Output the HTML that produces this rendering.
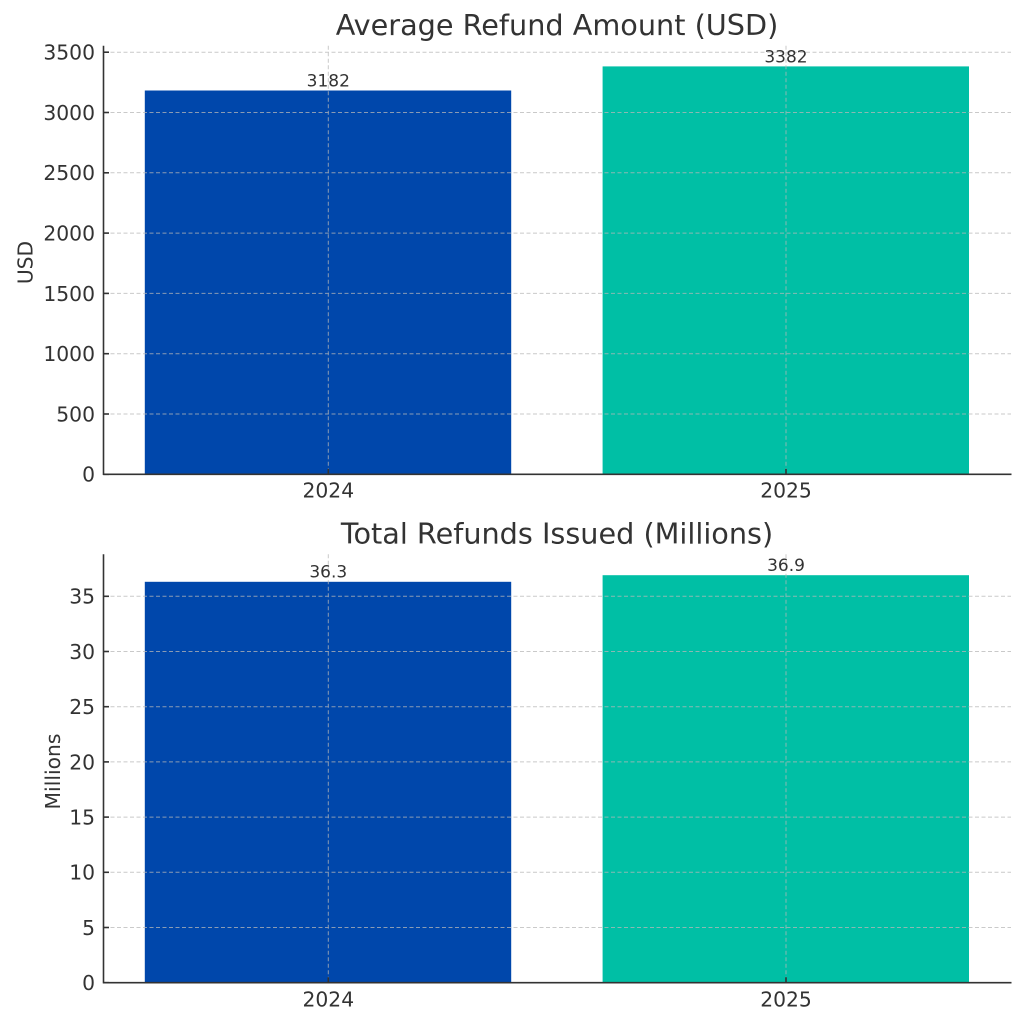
<!DOCTYPE html>
<html>
<head>
<meta charset="utf-8">
<style>
html,body{margin:0;padding:0;background:#fff;}
svg{display:block;}
text{font-family:"DejaVu Sans","Liberation Sans",sans-serif;fill:#333;}
</style>
</head>
<body>
<svg width="1024" height="1024" viewBox="0 0 1024 1024" xmlns="http://www.w3.org/2000/svg">
<rect width="1024" height="1024" fill="#fff"/>

<!-- ===== TOP AXES ===== -->
<text x="557" y="35" font-size="28.7" text-anchor="middle">Average Refund Amount (USD)</text>

<!-- bars -->
<rect x="144.8" y="90.5" width="366.4" height="383.8" fill="#0047ab"/>
<rect x="602.6" y="66.4" width="366.4" height="407.9" fill="#00bfa5"/>

<!-- grid -->
<g stroke="#b8b8b8" stroke-width="1" stroke-dasharray="4,2.5" opacity="0.75" fill="none">
  <line x1="104" y1="414.0" x2="1011" y2="414.0"/>
  <line x1="104" y1="353.7" x2="1011" y2="353.7"/>
  <line x1="104" y1="293.4" x2="1011" y2="293.4"/>
  <line x1="104" y1="233.1" x2="1011" y2="233.1"/>
  <line x1="104" y1="172.8" x2="1011" y2="172.8"/>
  <line x1="104" y1="112.5" x2="1011" y2="112.5"/>
  <line x1="104" y1="52.2" x2="1011" y2="52.2"/>
  <line x1="328.3" y1="45.7" x2="328.3" y2="474.3"/>
  <line x1="786" y1="45.7" x2="786" y2="474.3"/>
</g>

<!-- spines -->
<g stroke="#333" stroke-width="1.6" fill="none">
  <line x1="103.5" y1="45.7" x2="103.5" y2="475"/>
  <line x1="103" y1="474.3" x2="1011.5" y2="474.3"/>
  <line x1="103.5" y1="474.3" x2="109" y2="474.3"/>
  <line x1="103.5" y1="414.0" x2="109" y2="414.0"/>
  <line x1="103.5" y1="353.7" x2="109" y2="353.7"/>
  <line x1="103.5" y1="293.4" x2="109" y2="293.4"/>
  <line x1="103.5" y1="233.1" x2="109" y2="233.1"/>
  <line x1="103.5" y1="172.8" x2="109" y2="172.8"/>
  <line x1="103.5" y1="112.5" x2="109" y2="112.5"/>
  <line x1="103.5" y1="52.2" x2="109" y2="52.2"/>
  <line x1="328.3" y1="474.3" x2="328.3" y2="468.8"/>
  <line x1="786" y1="474.3" x2="786" y2="468.8"/>
</g>

<!-- y tick labels -->
<g font-size="20.3" text-anchor="end">
  <text x="95" y="481.7">0</text>
  <text x="95" y="421.4">500</text>
  <text x="95" y="361.1">1000</text>
  <text x="95" y="300.8">1500</text>
  <text x="95" y="240.5">2000</text>
  <text x="95" y="180.2">2500</text>
  <text x="95" y="119.9">3000</text>
  <text x="95" y="59.6">3500</text>
</g>
<!-- x tick labels -->
<g font-size="20.3" text-anchor="middle">
  <text x="328.3" y="497.7">2024</text>
  <text x="786" y="497.7">2025</text>
</g>
<text font-size="20.3" text-anchor="middle" transform="translate(32.5,262.5) rotate(-90)">USD</text>

<!-- value labels -->
<g font-size="17" text-anchor="middle">
  <text x="328.3" y="86.5">3182</text>
  <text x="786" y="62.3">3382</text>
</g>

<!-- ===== BOTTOM AXES ===== -->
<text x="557" y="543.3" font-size="28.7" text-anchor="middle">Total Refunds Issued (Millions)</text>

<rect x="144.8" y="581.8" width="366.4" height="400.9" fill="#0047ab"/>
<rect x="602.6" y="575.2" width="366.4" height="407.5" fill="#00bfa5"/>

<g stroke="#b8b8b8" stroke-width="1" stroke-dasharray="4,2.5" opacity="0.75" fill="none">
  <line x1="104" y1="927.5" x2="1011" y2="927.5"/>
  <line x1="104" y1="872.3" x2="1011" y2="872.3"/>
  <line x1="104" y1="817.1" x2="1011" y2="817.1"/>
  <line x1="104" y1="761.9" x2="1011" y2="761.9"/>
  <line x1="104" y1="706.7" x2="1011" y2="706.7"/>
  <line x1="104" y1="651.5" x2="1011" y2="651.5"/>
  <line x1="104" y1="596.3" x2="1011" y2="596.3"/>
  <line x1="328.3" y1="554.3" x2="328.3" y2="982.7"/>
  <line x1="786" y1="554.3" x2="786" y2="982.7"/>
</g>

<g stroke="#333" stroke-width="1.6" fill="none">
  <line x1="103.5" y1="554.3" x2="103.5" y2="983.4"/>
  <line x1="103" y1="982.7" x2="1011.5" y2="982.7"/>
  <line x1="103.5" y1="982.7" x2="109" y2="982.7"/>
  <line x1="103.5" y1="927.5" x2="109" y2="927.5"/>
  <line x1="103.5" y1="872.3" x2="109" y2="872.3"/>
  <line x1="103.5" y1="817.1" x2="109" y2="817.1"/>
  <line x1="103.5" y1="761.9" x2="109" y2="761.9"/>
  <line x1="103.5" y1="706.7" x2="109" y2="706.7"/>
  <line x1="103.5" y1="651.5" x2="109" y2="651.5"/>
  <line x1="103.5" y1="596.3" x2="109" y2="596.3"/>
  <line x1="328.3" y1="982.7" x2="328.3" y2="977.2"/>
  <line x1="786" y1="982.7" x2="786" y2="977.2"/>
</g>

<g font-size="20.3" text-anchor="end">
  <text x="95" y="990.1">0</text>
  <text x="95" y="934.9">5</text>
  <text x="95" y="879.7">10</text>
  <text x="95" y="824.5">15</text>
  <text x="95" y="769.3">20</text>
  <text x="95" y="714.1">25</text>
  <text x="95" y="658.9">30</text>
  <text x="95" y="603.7">35</text>
</g>
<g font-size="20.3" text-anchor="middle">
  <text x="328.3" y="1006.7">2024</text>
  <text x="786" y="1006.7">2025</text>
</g>
<text font-size="20.3" text-anchor="middle" transform="translate(60,771.5) rotate(-90)">Millions</text>

<g font-size="17" text-anchor="middle">
  <text x="328.3" y="577.3">36.3</text>
  <text x="786" y="571">36.9</text>
</g>
</svg>
</body>
</html>
